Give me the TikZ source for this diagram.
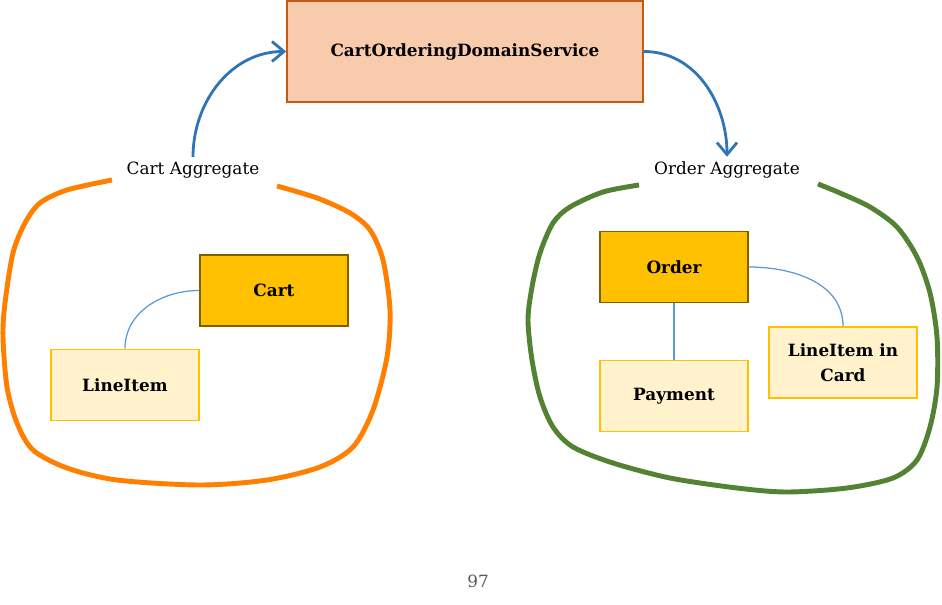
\documentclass[tikz,border=0pt]{standalone}
\usepackage{fontspec}
\setmainfont{DejaVu Serif}
\usepackage{tikz}
\usetikzlibrary{arrows.meta,positioning}
\definecolor{svcfill}{HTML}{F8CBAD}
\definecolor{svcdraw}{HTML}{C55A11}
\definecolor{rootfill}{HTML}{FFC000}
\definecolor{rootdraw}{HTML}{7F6000}
\definecolor{entfill}{HTML}{FFF2CC}
\definecolor{cartcol}{HTML}{FF7F00}
\definecolor{ordercol}{HTML}{548235}
\definecolor{flowcol}{HTML}{2E75B6}
\definecolor{linkcol}{HTML}{5B9BD5}
\definecolor{pagecol}{HTML}{595959}
\newcommand{\txtsize}{\fontsize{12}{18}\selectfont}

\begin{document}
\begin{tikzpicture}[font=\txtsize,
  svc/.style={draw=svcdraw,fill=svcfill,line width=1.2pt,
              minimum width=8.9cm,minimum height=2.525cm,font=\txtsize\bfseries},
  root/.style={draw=rootdraw,fill=rootfill,line width=1.2pt,align=center,
              minimum width=3.7cm,minimum height=1.775cm,font=\txtsize\bfseries},
  ent/.style={root,draw=rootfill,fill=entfill},
  flow/.style={-{Straight Barb[length=3mm,width=5mm]},flowcol,line width=2pt},
  link/.style={linkcol,line width=0.9pt},
  blob/.style={line width=3.5pt},
]
\useasboundingbox (0,0) rectangle (23.55,-15.125);

\node[svc] (service) at (11.625,-1.2875) {CartOrderingDomainService};

% cart aggregate
\node (cartagg) at (4.825,-4.25) {Cart Aggregate};
\node[root] (cart) at (6.85,-7.2625) {Cart};
\node[ent] (lineitem) at (3.125,-9.625) {LineItem};
\draw[link] (cart.west) to[out=180,in=90] (lineitem.north);
\draw[blob,cartcol] plot[smooth,tension=0.5] coordinates {
  (2.8,-4.5) (1.675,-4.75) (1.0,-5.075) (0.625,-5.575) (0.325,-6.325)
  (0.125,-7.575) (0.075,-8.425) (0.175,-9.675) (0.425,-10.575)
  (0.825,-11.25) (1.675,-11.7) (2.925,-12.0) (5.0,-12.125) (6.675,-12.0)
  (8.0,-11.675) (8.825,-11.175) (9.325,-10.25) (9.675,-8.925)
  (9.75,-7.75) (9.575,-6.5) (9.25,-5.75) (8.75,-5.325) (7.925,-4.95)
  (6.925,-4.65)};

% order aggregate
\node (orderagg) at (18.175,-4.25) {Order Aggregate};
\node[root] (order) at (16.85,-6.675) {Order};
\node[ent] (payment) at (16.85,-9.9) {Payment};
\node[ent] (lineincard) at (21.075,-9.0625) {LineItem in\\Card};
\draw[link] (order) -- (payment);
\draw[link] (order.east) to[out=0,in=90] (lineincard.north);
\draw[blob,ordercol] plot[smooth,tension=0.5] coordinates {
  (15.975,-4.625) (15.075,-4.8) (14.25,-5.175) (13.825,-5.575)
  (13.5,-6.325) (13.3,-7.175) (13.2,-8.0) (13.3,-9.0) (13.5,-9.925)
  (13.825,-10.675) (14.325,-11.175) (15.325,-11.575) (16.75,-11.95)
  (18.425,-12.2) (19.675,-12.3) (21.175,-12.2) (22.325,-11.95)
  (22.925,-11.5) (23.25,-10.675) (23.425,-9.675) (23.425,-8.425)
  (23.25,-7.325) (22.925,-6.425) (22.425,-5.675) (21.75,-5.175)
  (21.0,-4.825) (20.45,-4.6)};

% flows through the service
\draw[flow] (cartagg.north) to[out=90,in=180] (service.west);
\draw[flow] (service.east) to[out=0,in=90] (orderagg.north);

\node[text=pagecol] (page) at (11.95,-14.525) {97};
\end{tikzpicture}
\end{document}
